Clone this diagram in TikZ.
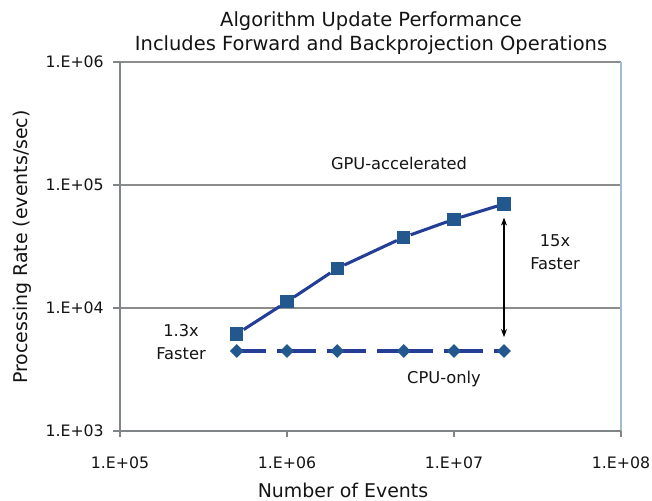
\documentclass[tikz,border=0pt]{standalone}
\usepackage{fontspec}
\setmainfont{DejaVu Sans}
\usetikzlibrary{arrows.meta,shapes.geometric}
\definecolor{markblue}{RGB}{34,88,142}
\definecolor{lineblue}{RGB}{36,62,152}
\definecolor{gridgray}{RGB}{140,140,140}
\definecolor{axisgray}{RGB}{128,134,136}
\definecolor{rimblue}{RGB}{160,190,208}
\definecolor{txt}{RGB}{20,20,20}
\pgfdeclarelayer{bottomlayer}
\pgfdeclarelayer{backlayer}
\pgfsetlayers{bottomlayer,backlayer,main}
\begin{document}
\begin{tikzpicture}[x=0.75pt,y=-0.75pt,
  gridline/.style={draw=gridgray,line width=1.1pt},
  axisline/.style={draw=axisgray,line width=1.1pt},
  tickmark/.style={draw=axisgray,line width=0.9pt},
  ticklab/.style={font=\fontsize{11.8}{13}\selectfont,text=txt,inner sep=0pt},
  axtitle/.style={font=\fontsize{14.2}{17}\selectfont,text=txt,inner sep=0pt},
  titletxt/.style={font=\fontsize{14.6}{17}\selectfont,text=txt,inner sep=0pt},
  annot/.style={font=\fontsize{12.2}{17}\selectfont,text=txt,inner sep=0pt,align=center},
  gpusq/.style={rectangle,fill=markblue,minimum size=10pt,inner sep=0pt},
  cpudia/.style={diamond,fill=markblue,minimum size=10.5pt,inner sep=0pt},
  gpuline/.style={draw=lineblue,line width=2.3pt},
  cpuline/.style={draw=lineblue,line width=2.3pt,dash pattern=on 21.75pt off 8.25pt},
  ratioarrow/.style={draw=black,line width=0.8pt,{Stealth[length=6pt,width=4.5pt]}-{Stealth[length=6pt,width=4.5pt]}}
]
\useasboundingbox (0,0) rectangle (652,500);
\begin{pgfonlayer}{bottomlayer}
\fill[white] (0,0) rectangle (652,500);
\end{pgfonlayer}

% grid and frame
\draw[gridline] (120,62) -- (621,62);
\draw[gridline] (120,185) -- (621,185);
\draw[gridline] (120,308) -- (621,308);
\draw[draw=rimblue,line width=1.1pt] (621,62) -- (621,431);
\draw[axisline] (120,62) -- (120,431);
\draw[axisline] (120,431) -- (621,431);

% ticks
\foreach \yy in {62,185,308,431} \draw[tickmark] (113,\yy) -- (120,\yy);
\foreach \xx in {120,287,454,621} \draw[tickmark] (\xx,431) -- (\xx,437);

% tick labels
\node[ticklab,anchor=east] (y6) at (104,62) {1.E+06};
\node[ticklab,anchor=east] (y5) at (104,185) {1.E+05};
\node[ticklab,anchor=east] (y4) at (104,308) {1.E+04};
\node[ticklab,anchor=east] (y3) at (104,431) {1.E+03};
\node[ticklab] (x5) at (120,463) {1.E+05};
\node[ticklab] (x6) at (287,463) {1.E+06};
\node[ticklab] (x7) at (454,463) {1.E+07};
\node[ticklab] (x8) at (621,463) {1.E+08};

% titles
\node[titletxt] (t1) at (371,21) {Algorithm Update Performance};
\node[titletxt] (t2) at (371,45) {Includes Forward and Backprojection Operations};
\node[axtitle] (xt) at (343,490) {Number of Events};
\node[axtitle,rotate=90] (yt) at (22,247) {Processing Rate (events/sec)};

% data nodes
\node[gpusq] (g1) at (236.7,334) {};
\node[gpusq] (g2) at (287,301.7) {};
\node[gpusq] (g3) at (337.3,268.3) {};
\node[gpusq] (g4) at (403.7,237.3) {};
\node[gpusq] (g5) at (454,219.3) {};
\node[gpusq] (g6) at (504,204) {};
\node[cpudia] (c1) at (236.7,351) {};
\node[cpudia] (c2) at (287,351) {};
\node[cpudia] (c3) at (337.3,351) {};
\node[cpudia] (c4) at (403.7,351) {};
\node[cpudia] (c5) at (454,351) {};
\node[cpudia] (c6) at (504,351) {};

\draw[gpuline] (g1) -- (g2) -- (g3) -- (g4) -- (g5) -- (g6);
\begin{pgfonlayer}{backlayer}
\draw[cpuline] (c1.center) -- (c2.center);
\draw[cpuline] (c2.center) -- (c3.center);
\draw[cpuline] (c3.center) -- (c4.center);
\draw[cpuline] (c4.center) -- (c5.center);
\draw[cpuline] (c5.center) -- (c6.center);
\end{pgfonlayer}

\draw[ratioarrow,shorten <=5pt,shorten >=5pt] (g6.south) -- (c6.north);

% annotations
\node[annot] (gpu) at (399,163) {GPU-accelerated};
\node[annot] (cpu) at (444,379) {CPU-only};
\node[annot] (f15) at (555,252) {15x\\Faster};
\node[annot] (f13) at (181,342) {1.3x\\Faster};
\end{tikzpicture}
\end{document}
